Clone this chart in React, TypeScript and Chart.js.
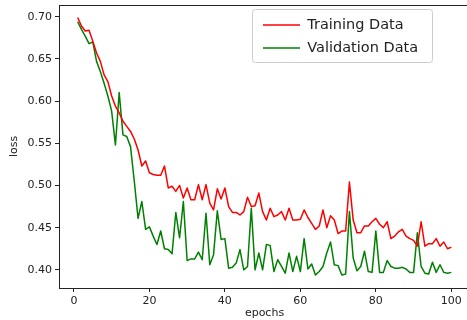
import React, { useEffect, useRef } from 'react';
import { Chart, registerables } from 'chart.js';

Chart.register(...registerables);

const epochs = Array.from({ length: 100 }, (_, i) => i + 1);

const trainingLoss = [
  0.699, 0.689, 0.683, 0.684, 0.671, 0.657, 0.647, 0.631, 0.623, 0.606,
  0.594, 0.586, 0.576, 0.570, 0.564, 0.555, 0.542, 0.523, 0.529, 0.515,
  0.513, 0.512, 0.512, 0.523, 0.497, 0.499, 0.493, 0.500, 0.485, 0.497,
  0.483, 0.483, 0.501, 0.483, 0.501, 0.479, 0.471, 0.496, 0.484, 0.497,
  0.475, 0.468, 0.468, 0.465, 0.469, 0.486, 0.475, 0.476, 0.491, 0.469,
  0.459, 0.473, 0.463, 0.465, 0.469, 0.459, 0.473, 0.459, 0.459, 0.460,
  0.471, 0.462, 0.455, 0.448, 0.452, 0.471, 0.450, 0.464, 0.459, 0.443,
  0.446, 0.446, 0.504, 0.459, 0.444, 0.444, 0.452, 0.452, 0.457, 0.461,
  0.454, 0.450, 0.457, 0.437, 0.440, 0.445, 0.448, 0.440, 0.437, 0.435,
  0.428, 0.457, 0.428, 0.431, 0.431, 0.437, 0.428, 0.433, 0.425, 0.427,
];

const validationLoss = [
  0.694, 0.685, 0.677, 0.668, 0.670, 0.647, 0.635, 0.621, 0.606, 0.588,
  0.548, 0.610, 0.560, 0.558, 0.546, 0.505, 0.461, 0.481, 0.448, 0.451,
  0.440, 0.430, 0.446, 0.425, 0.424, 0.419, 0.468, 0.438, 0.481, 0.411,
  0.413, 0.413, 0.421, 0.412, 0.467, 0.406, 0.418, 0.470, 0.436, 0.437,
  0.402, 0.403, 0.408, 0.424, 0.400, 0.404, 0.473, 0.400, 0.420, 0.400,
  0.430, 0.429, 0.398, 0.412, 0.404, 0.396, 0.420, 0.398, 0.416, 0.398,
  0.437, 0.401, 0.407, 0.394, 0.398, 0.404, 0.420, 0.433, 0.406, 0.405,
  0.394, 0.395, 0.469, 0.414, 0.399, 0.404, 0.422, 0.398, 0.397, 0.446,
  0.397, 0.397, 0.411, 0.404, 0.402, 0.402, 0.403, 0.401, 0.397, 0.397,
  0.444, 0.404, 0.396, 0.395, 0.409, 0.397, 0.406, 0.397, 0.396, 0.397,
];

const seriesNames = ['Training Data', 'Validation Data'];
const xTickValues = [0, 20, 40, 60, 80, 100];
const yTickValues = [0.4, 0.45, 0.5, 0.55, 0.6, 0.65, 0.7];
const xTitle = 'epochs';
const yTitle = 'loss';

const FONT = "'DejaVu Sans', sans-serif";
const INK = '#222222';

export default function App() {
  const ref = useRef<HTMLCanvasElement>(null);

  useEffect(() => {
    if (!ref.current) return;

    const framePlugin = {
      id: 'frame',
      afterLayout(chart: any) {
        const lg = chart.legend;
        const ca = chart.chartArea;
        if (lg) {
          lg.left = ca.right - 215.5;
          lg.top = ca.top + 4.25;
        }
      },
      beforeDraw(chart: any) {
        const ctx = chart.ctx;
        const ca = chart.chartArea;
        ctx.save();
        ctx.fillStyle = '#ffffff';
        ctx.fillRect(0, 0, chart.width, chart.height);
        // legend frame
        const x = ca.right - 217.5;
        const y = ca.top + 4.5;
        const w = 180;
        const h = 53;
        const r = 3;
        ctx.beginPath();
        ctx.moveTo(x + r, y);
        ctx.lineTo(x + w - r, y);
        ctx.arcTo(x + w, y, x + w, y + r, r);
        ctx.lineTo(x + w, y + h - r);
        ctx.arcTo(x + w, y + h, x + w - r, y + h, r);
        ctx.lineTo(x + r, y + h);
        ctx.arcTo(x, y + h, x, y + h - r, r);
        ctx.lineTo(x, y + r);
        ctx.arcTo(x, y, x + r, y, r);
        ctx.closePath();
        ctx.fillStyle = 'rgba(255,255,255,0.8)';
        ctx.fill();
        ctx.strokeStyle = '#cccccc';
        ctx.lineWidth = 1;
        ctx.stroke();
        ctx.restore();
      },
      afterDraw(chart: any) {
        const ctx = chart.ctx;
        const ca = chart.chartArea;
        ctx.save();
        ctx.strokeStyle = INK;
        ctx.lineWidth = 1;
        ctx.beginPath();
        const t = Math.round(ca.top) + 0.5;
        const r = Math.round(ca.right) - 0.5;
        ctx.moveTo(ca.left, t);
        ctx.lineTo(r, t);
        ctx.lineTo(r, ca.bottom);
        ctx.stroke();
        ctx.restore();
      },
    };

    const chart = new Chart(ref.current, {
      type: 'line',
      data: {
        labels: epochs,
        datasets: [
          {
            label: seriesNames[0],
            data: trainingLoss,
            borderColor: '#ff0000',
            backgroundColor: '#ff0000',
            borderWidth: 1.5,
            pointRadius: 0,
            tension: 0,
            borderJoinStyle: 'round',
          },
          {
            label: seriesNames[1],
            data: validationLoss,
            borderColor: '#008000',
            backgroundColor: '#008000',
            borderWidth: 1.5,
            pointRadius: 0,
            tension: 0,
            borderJoinStyle: 'round',
          },
        ],
      },
      options: {
        animation: false,
        responsive: false,
        events: [],
        layout: { padding: { left: 8, right: 5, top: 5, bottom: 0 } },
        plugins: {
          tooltip: { enabled: false },
          legend: {
            position: 'chartArea',
            align: 'start',
            labels: {
              usePointStyle: true,
              pointStyle: 'line',
              pointStyleWidth: 37,
              padding: 8.5,
              color: INK,
              font: { family: FONT, size: 14.5 },
            },
          },
        },
        scales: {
          x: {
            type: 'linear',
            min: -3.95,
            max: 104.95,
            afterBuildTicks: (scale: any) => {
              scale.ticks = xTickValues.map((value) => ({ value }));
            },
            afterFit: (scale: any) => {
              scale.height = 32;
              scale.paddingLeft = 0;
              scale.paddingRight = 0;
            },
            grid: {
              display: true,
              drawOnChartArea: false,
              drawTicks: true,
              tickLength: 4,
              tickColor: INK,
              tickWidth: 1,
            },
            border: { display: true, color: INK, width: 1 },
            ticks: {
              padding: 3,
              color: INK,
              font: { family: FONT, size: 11 },
              maxRotation: 0,
              autoSkip: false,
              callback: (v: any) => String(v),
            },
            title: {
              display: true,
              text: xTitle,
              color: INK,
              font: { family: FONT, size: 11 },
              padding: 0,
            },
          },
          y: {
            type: 'linear',
            min: 0.3785,
            max: 0.7138,
            afterBuildTicks: (scale: any) => {
              scale.ticks = yTickValues.map((value) => ({ value }));
            },
            afterFit: (scale: any) => {
              scale.width = 51;
              scale.paddingTop = 0;
              scale.paddingBottom = 0;
            },
            grid: {
              display: true,
              drawOnChartArea: false,
              drawTicks: true,
              tickLength: 4,
              tickColor: INK,
              tickWidth: 1,
            },
            border: { display: true, color: INK, width: 1 },
            ticks: {
              padding: 3,
              color: INK,
              font: { family: FONT, size: 11 },
              autoSkip: false,
              callback: (v: any) => Number(v).toFixed(2),
            },
            title: {
              display: true,
              text: yTitle,
              color: INK,
              font: { family: FONT, size: 11 },
              padding: 0,
            },
          },
        },
      },
      plugins: [framePlugin],
    } as any);

    return () => chart.destroy();
  }, []);

  return (
    <div
      style={{
        position: 'fixed',
        left: 0,
        top: 0,
        width: 467,
        height: 320,
        overflow: 'hidden',
        background: '#ffffff',
      }}
    >
      <canvas ref={ref} width={475} height={320} style={{ display: 'block' }} />
    </div>
  );
}
